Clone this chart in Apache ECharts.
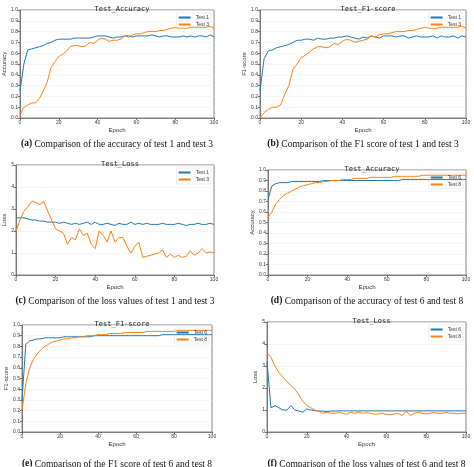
<!DOCTYPE html><html><head><meta charset="utf-8"><script src="https://cdn.jsdelivr.net/npm/echarts@6/dist/echarts.min.js"></script>
<style>body{margin:0}#c{width:474px;height:467px}</style></head><body><div id="c"></div><script>
// values every 2 epochs (0,2,...,100)
const accT1=[0.25,0.5,0.63,0.64,0.65,0.66,0.67,0.69,0.70,0.72,0.73,0.73,0.73,0.73,0.74,0.74,0.74,0.74,0.74,0.75,0.76,0.76,0.76,0.75,0.74,0.75,0.75,0.76,0.76,0.75,0.76,0.76,0.76,0.76,0.77,0.76,0.75,0.76,0.76,0.75,0.75,0.75,0.76,0.75,0.76,0.75,0.76,0.76,0.75,0.77,0.75];
const accT3=[0.03,0.1,0.12,0.14,0.14,0.18,0.25,0.33,0.47,0.52,0.57,0.59,0.62,0.66,0.67,0.67,0.66,0.67,0.70,0.69,0.72,0.74,0.73,0.71,0.72,0.72,0.73,0.76,0.75,0.77,0.78,0.78,0.79,0.80,0.80,0.80,0.81,0.81,0.82,0.83,0.84,0.83,0.83,0.83,0.84,0.84,0.84,0.84,0.84,0.85,0.83];
const f1T1=[0.25,0.55,0.62,0.63,0.65,0.66,0.67,0.68,0.70,0.72,0.72,0.73,0.73,0.72,0.74,0.73,0.73,0.74,0.74,0.75,0.75,0.76,0.75,0.74,0.73,0.75,0.74,0.76,0.75,0.74,0.76,0.76,0.76,0.75,0.76,0.76,0.74,0.75,0.76,0.75,0.75,0.75,0.76,0.74,0.76,0.75,0.75,0.76,0.74,0.76,0.75];
const f1T3=[0.0,0.05,0.08,0.10,0.10,0.12,0.22,0.30,0.45,0.50,0.56,0.58,0.61,0.64,0.66,0.66,0.65,0.66,0.69,0.68,0.71,0.73,0.72,0.70,0.71,0.72,0.73,0.76,0.75,0.77,0.78,0.78,0.79,0.80,0.80,0.80,0.81,0.81,0.82,0.83,0.84,0.83,0.83,0.83,0.84,0.84,0.84,0.84,0.84,0.85,0.83];
const lossT1=[2.6,2.6,2.6,2.55,2.5,2.5,2.45,2.45,2.4,2.4,2.4,2.35,2.4,2.35,2.3,2.35,2.3,2.35,2.4,2.3,2.4,2.3,2.3,2.35,2.3,2.25,2.35,2.3,2.3,2.4,2.3,2.35,2.3,2.35,2.3,2.3,2.3,2.35,2.3,2.3,2.3,2.35,2.3,2.25,2.3,2.3,2.35,2.3,2.3,2.35,2.3];
const lossT3=[2.0,2.5,2.9,3.1,3.35,3.3,3.2,3.35,2.9,2.5,2.1,2.0,1.9,1.4,1.7,1.6,2.1,1.8,1.9,1.4,1.2,2.0,1.8,1.5,2.0,1.5,1.7,1.7,1.3,1.0,1.3,1.5,0.8,0.85,0.9,0.95,1.0,1.15,0.8,0.95,0.8,0.9,0.8,0.85,1.1,0.9,1.0,1.2,1.0,1.05,1.0];
const accT6=[0.72,0.85,0.87,0.88,0.88,0.88,0.89,0.89,0.89,0.89,0.89,0.89,0.89,0.89,0.9,0.9,0.9,0.9,0.9,0.9,0.9,0.9,0.9,0.9,0.9,0.9,0.9,0.9,0.9,0.9,0.9,0.9,0.9,0.9,0.91,0.91,0.91,0.91,0.91,0.91,0.91,0.91,0.91,0.91,0.91,0.91,0.91,0.91,0.91,0.91,0.91];
const accT8=[0.55,0.6,0.68,0.72,0.76,0.78,0.8,0.82,0.84,0.85,0.86,0.87,0.88,0.88,0.89,0.89,0.9,0.9,0.9,0.91,0.91,0.91,0.92,0.92,0.92,0.92,0.93,0.93,0.93,0.93,0.93,0.93,0.94,0.94,0.94,0.94,0.94,0.94,0.94,0.95,0.95,0.95,0.95,0.95,0.95,0.95,0.95,0.95,0.95,0.95,0.95];
const f1T6=[0.3,0.82,0.85,0.86,0.87,0.87,0.88,0.88,0.88,0.88,0.88,0.89,0.89,0.89,0.89,0.89,0.89,0.89,0.89,0.9,0.9,0.9,0.9,0.9,0.9,0.9,0.9,0.9,0.9,0.9,0.9,0.9,0.9,0.9,0.9,0.9,0.9,0.91,0.91,0.91,0.91,0.91,0.91,0.91,0.91,0.91,0.91,0.91,0.91,0.91,0.91];
const f1T8=[0.2,0.45,0.6,0.68,0.73,0.77,0.8,0.82,0.84,0.85,0.86,0.87,0.87,0.88,0.88,0.89,0.89,0.9,0.9,0.9,0.91,0.91,0.91,0.92,0.92,0.92,0.92,0.93,0.93,0.93,0.93,0.93,0.93,0.94,0.94,0.94,0.94,0.94,0.94,0.94,0.94,0.95,0.95,0.95,0.95,0.95,0.95,0.95,0.95,0.95,0.95];
const lossT6=[3.2,1.1,1.2,1.1,1.0,1.0,1.2,1.0,0.95,0.9,1.05,1.0,0.97,0.95,0.95,0.93,0.95,0.95,0.96,0.96,0.96,0.96,0.96,0.96,0.96,0.96,0.96,0.96,0.96,0.96,0.96,0.96,0.96,0.96,0.96,0.96,0.96,0.96,0.96,0.96,0.96,0.96,0.96,0.96,0.96,0.96,0.96,0.96,0.96,0.96,0.96];
const lossT8=[3.6,3.4,3.0,2.7,2.5,2.3,2.1,1.95,1.7,1.4,1.2,1.1,1.0,0.95,0.85,0.9,0.85,0.85,0.88,0.85,0.8,0.9,0.85,0.9,0.85,0.88,0.85,0.8,0.82,0.85,0.8,0.78,0.82,0.85,0.75,0.95,0.75,0.85,0.9,0.85,0.82,0.85,0.88,0.85,0.85,0.9,0.85,0.85,0.82,0.85,0.85];
const panels=[
 {t:'Test_Accuracy',y:'Accuracy',max:1,iv:0.1,s:[['Test 1',accT1],['Test 3',accT3]],g:[20,10,214,118],lab:'a',cap:'Comparison of the accuracy of test 1 and test 3'},
 {t:'Test_F1-score',y:'F1-score',max:1,iv:0.1,s:[['Test 1',f1T1],['Test 3',f1T3]],g:[260,10,466,118],lab:'b',cap:'Comparison of the F1 score of test 1 and test 3'},
 {t:'Test_Loss',y:'Loss',max:5,iv:1,s:[['Test 1',lossT1],['Test 3',lossT3]],g:[16,165,214,275],lab:'c',cap:'Comparison of the loss values of test 1 and test 3'},
 {t:'Test_Accuracy',y:'Accuracy',max:1,iv:0.1,s:[['Test 6',accT6],['Test 8',accT8]],g:[268,170,466,275],lab:'d',cap:'Comparison of the accuracy of test 6 and test 8'},
 {t:'Test_F1-score',y:'F1-score',max:1,iv:0.1,s:[['Test 6',f1T6],['Test 8',f1T8]],g:[22,325,212,432],lab:'e',cap:'Comparison of the F1 score of test 6 and test 8'},
 {t:'Test_Loss',y:'Loss',max:5,iv:1,s:[['Test 6',lossT6],['Test 8',lossT8]],g:[267,322,466,432],lab:'f',cap:'Comparison of the loss values of test 6 and test 8'}];
const C=['#1f77b4','#ff7f0e'];
const o={animation:false,backgroundColor:'#fff',grid:[],xAxis:[],yAxis:[],series:[],title:[],legend:[],graphic:[]};
const ax={lineStyle:{color:'#666',width:0.8}};
panels.forEach((p,i)=>{
 const [l,t,r,b]=p.g;
 o.grid.push({left:l,top:t,width:r-l,height:b-t,show:true,borderColor:'#666',borderWidth:0.8});
 o.xAxis.push({gridIndex:i,type:'value',min:0,max:100,interval:20,name:'Epoch',nameLocation:'middle',nameGap:9,nameTextStyle:{fontSize:6,color:'#333'},axisLine:ax,axisTick:{length:2,lineStyle:{color:'#666'}},axisLabel:{fontSize:5,margin:2,color:'#333'},splitLine:{show:false}});
 o.yAxis.push({gridIndex:i,type:'value',min:0,max:p.max,interval:p.iv,name:p.y,nameLocation:'middle',nameGap:p.max===1?12:8,nameTextStyle:{fontSize:6,color:'#333'},axisLine:ax,axisTick:{length:2,lineStyle:{color:'#666'}},axisLabel:{fontSize:5,margin:2,color:'#333',formatter:v=>p.max===1?v.toFixed(1):v},splitLine:{lineStyle:{color:'#eee',width:0.6}}});
 p.s.forEach(([n,d],k)=>o.series.push({type:'line',name:n+' '+p.lab,xAxisIndex:i,yAxisIndex:i,showSymbol:false,data:d.map((v,j)=>[j*2,v]),lineStyle:{width:1,color:C[k]},itemStyle:{color:C[k]}}));
 o.title.push({text:p.t,left:(l+r)/2,top:t-9,textAlign:'center',textStyle:{fontSize:7,fontWeight:'normal',color:'#222',fontFamily:'DejaVu Sans Mono'}});
 o.legend.push({data:p.s.map(s=>({name:s[0]+' '+p.lab})),formatter:n=>n.slice(0,-2),orient:'vertical',right:474-r+3,top:t+3,itemWidth:12,itemHeight:2,itemGap:2,icon:'rect',textStyle:{fontSize:5,color:'#333'},borderColor:'#ddd',borderWidth:0.5,padding:2});
 o.graphic.push({type:'text',x:(l+r)/2,y:b+(i<4?21:27),style:{text:'{b|('+p.lab+')} '+p.cap,align:'center',font:'9.5px "Liberation Serif"',fill:'#111',rich:{b:{fontWeight:'bold',fontSize:9.5,fontFamily:'Liberation Serif'}}}});
});
echarts.init(document.getElementById('c')).setOption(o);
</script></body></html>
